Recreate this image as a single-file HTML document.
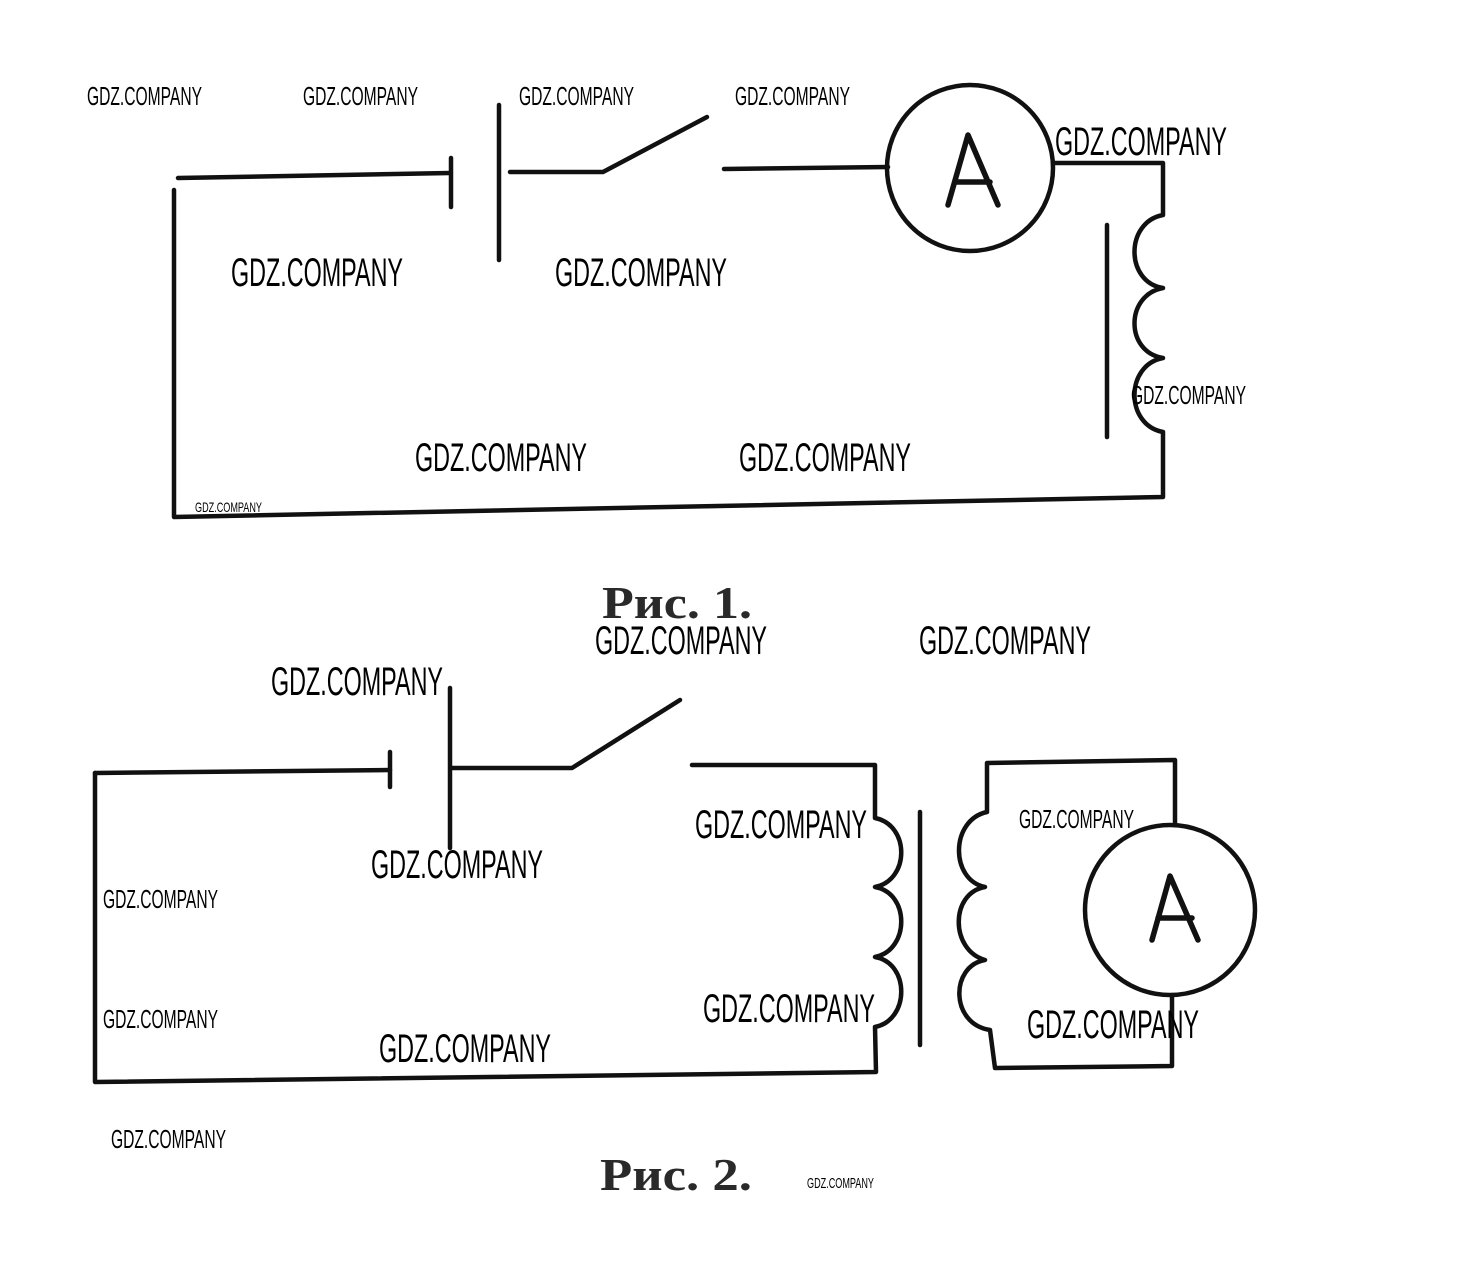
<!DOCTYPE html>
<html><head><meta charset="utf-8"><style>
html,body{margin:0;padding:0;background:#fff;}
svg{display:block;}
.w{font-family:"Liberation Sans Narrow","Liberation Sans",sans-serif;fill:#000;}
</style></head><body>
<svg width="1483" height="1284" viewBox="0 0 1483 1284" xmlns="http://www.w3.org/2000/svg">
<g stroke="#111" stroke-width="4.5" fill="none" stroke-linecap="round" stroke-linejoin="round">
<!-- Fig 1 -->
<path d="M178,178 L450,173"/>
<path d="M451,158 L451,207"/>
<path d="M499,105 L499,260"/>
<path d="M510,172 L603,172 L707,117"/>
<path d="M724,169 L888,167"/>
<circle cx="970" cy="168" r="83"/>
<path d="M1054,163 L1163,163 L1163,215 C1125,222 1125,282 1163,288 C1125,295 1125,352 1163,358 C1125,365 1125,425 1163,432 L1163,497 L174,517 L174,190"/>
<path d="M1107,225 L1107,437"/>
<path d="M948,205 L968,135 L998,205 M955,182 L990,182" stroke-width="5.5"/>
<!-- Fig 2 -->
<path d="M95,773 L390,770"/>
<path d="M390,752 L390,787"/>
<path d="M450,688 L450,848"/>
<path d="M452,768 L572,768 L680,700"/>
<path d="M692,765 L875,765 L875,818 C910,825 910,880 875,887 C910,893 910,950 875,957 C910,963 910,1020 875,1027 L876,1072 L95,1082 L95,773"/>
<path d="M920,812 L920,1045"/>
<path d="M1175,825 L1175,760 L987,763 L987,812 C950,820 950,880 985,887 C950,893 950,950 985,960 C950,966 950,1024 990,1030 L995,1068 L1172,1066 L1172,997"/>
<circle cx="1170" cy="910" r="85"/>
<path d="M1152,940 L1170,876 L1198,940 M1158,918 L1192,918" stroke-width="5.5"/>
</g>
<text x="602" y="618" font-family="Liberation Serif,serif" font-weight="bold" font-size="46" fill="#2a2a2a" textLength="150" lengthAdjust="spacingAndGlyphs">Рис. 1.</text>
<text x="600" y="1190" font-family="Liberation Serif,serif" font-weight="bold" font-size="46" fill="#2a2a2a" textLength="152" lengthAdjust="spacingAndGlyphs">Рис. 2.</text>
<g class="w">
<text x="87" y="105" font-size="26" textLength="115" lengthAdjust="spacingAndGlyphs">GDZ.COMPANY</text>
<text x="303" y="105" font-size="26" textLength="115" lengthAdjust="spacingAndGlyphs">GDZ.COMPANY</text>
<text x="519" y="105" font-size="26" textLength="115" lengthAdjust="spacingAndGlyphs">GDZ.COMPANY</text>
<text x="735" y="105" font-size="26" textLength="115" lengthAdjust="spacingAndGlyphs">GDZ.COMPANY</text>
<text x="1055" y="155" font-size="40" textLength="172" lengthAdjust="spacingAndGlyphs">GDZ.COMPANY</text>
<text x="231" y="286" font-size="40" textLength="172" lengthAdjust="spacingAndGlyphs">GDZ.COMPANY</text>
<text x="555" y="286" font-size="40" textLength="172" lengthAdjust="spacingAndGlyphs">GDZ.COMPANY</text>
<text x="1131" y="404" font-size="26" textLength="115" lengthAdjust="spacingAndGlyphs">GDZ.COMPANY</text>
<text x="415" y="471" font-size="40" textLength="172" lengthAdjust="spacingAndGlyphs">GDZ.COMPANY</text>
<text x="739" y="471" font-size="40" textLength="172" lengthAdjust="spacingAndGlyphs">GDZ.COMPANY</text>
<text x="195" y="512" font-size="14" textLength="67" lengthAdjust="spacingAndGlyphs">GDZ.COMPANY</text>
<text x="595" y="654" font-size="40" textLength="172" lengthAdjust="spacingAndGlyphs">GDZ.COMPANY</text>
<text x="919" y="654" font-size="40" textLength="172" lengthAdjust="spacingAndGlyphs">GDZ.COMPANY</text>
<text x="271" y="695" font-size="40" textLength="172" lengthAdjust="spacingAndGlyphs">GDZ.COMPANY</text>
<text x="695" y="838" font-size="40" textLength="172" lengthAdjust="spacingAndGlyphs">GDZ.COMPANY</text>
<text x="1019" y="828" font-size="26" textLength="115" lengthAdjust="spacingAndGlyphs">GDZ.COMPANY</text>
<text x="371" y="878" font-size="40" textLength="172" lengthAdjust="spacingAndGlyphs">GDZ.COMPANY</text>
<text x="103" y="908" font-size="26" textLength="115" lengthAdjust="spacingAndGlyphs">GDZ.COMPANY</text>
<text x="703" y="1022" font-size="40" textLength="172" lengthAdjust="spacingAndGlyphs">GDZ.COMPANY</text>
<text x="103" y="1028" font-size="26" textLength="115" lengthAdjust="spacingAndGlyphs">GDZ.COMPANY</text>
<text x="1027" y="1038" font-size="40" textLength="172" lengthAdjust="spacingAndGlyphs">GDZ.COMPANY</text>
<text x="379" y="1062" font-size="40" textLength="172" lengthAdjust="spacingAndGlyphs">GDZ.COMPANY</text>
<text x="111" y="1148" font-size="26" textLength="115" lengthAdjust="spacingAndGlyphs">GDZ.COMPANY</text>
<text x="807" y="1188" font-size="15" textLength="67" lengthAdjust="spacingAndGlyphs">GDZ.COMPANY</text>
</g>
</svg>
</body></html>
